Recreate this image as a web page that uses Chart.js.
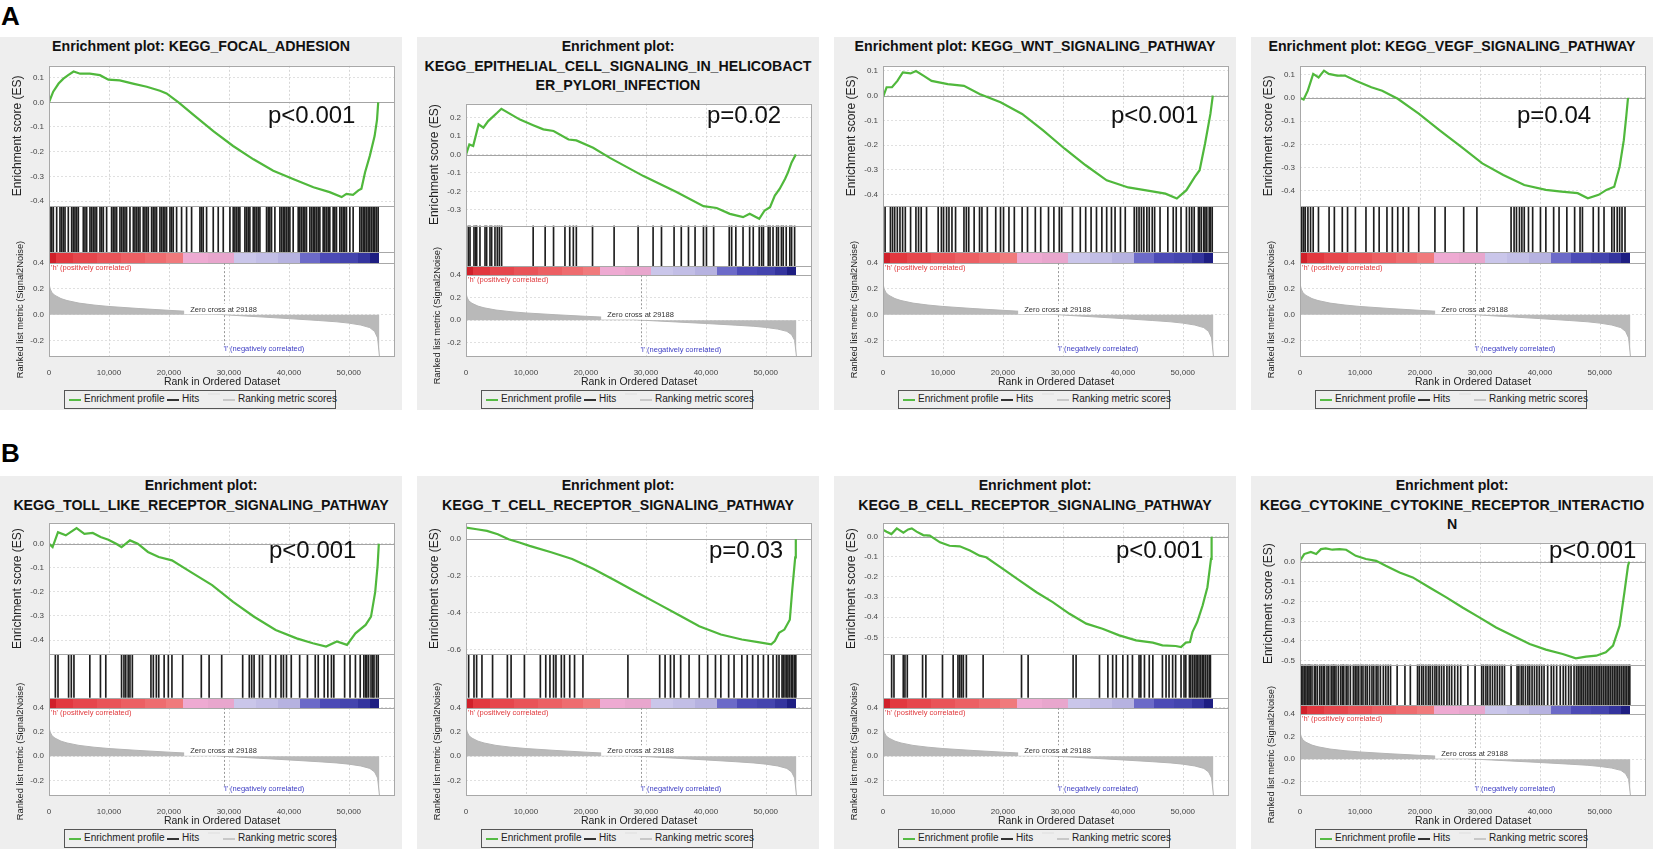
<!DOCTYPE html>
<html>
<head>
<meta charset="utf-8">
<title>GSEA enrichment plots</title>
<script src="https://cdn.jsdelivr.net/npm/chart.js@4.4.0/dist/chart.umd.min.js"></script>
<style>
  body { margin: 0; width: 1653px; height: 850px; overflow: hidden; background: #fff; position: relative;
         font-family: "Liberation Sans", Arial, sans-serif; }
  .tag { position: absolute; left: 1px; font: bold 26px "Liberation Sans", Arial, sans-serif; color: #000; line-height: 26px; }
  .panel { position: absolute; width: 402px; height: 373px; background: #eeeeee; }
  .ttl { position: absolute; left: 0; right: 0; top: 0; text-align: center; white-space: nowrap;
         font: bold 14.2px "Liberation Sans", Arial, sans-serif; line-height: 19.5px; color: #111; }
  .cw { position: absolute; left: 0; width: 402px; }
  .pv { position: absolute; font: 24px "Liberation Sans", Arial, sans-serif; line-height: 24px; color: #111; white-space: nowrap; }
  .leg { position: absolute; top: 353px; left: 64px; width: 270px; height: 17px; border: 1px solid #555;
         font: 10px "Liberation Sans", Arial, sans-serif; color: #222; }
  .leg .ln { position: absolute; top: 8px; width: 12px; height: 2px; }
  .leg .lt { position: absolute; top: 1px; line-height: 14px; white-space: nowrap; }
</style>
</head>
<body>
<div class="tag" style="top:3px">A</div>
<div class="tag" style="top:440px">B</div>
<script>
// ---- data (ranks in thousands) ----
const titles = [
  ['Enrichment plot: KEGG_FOCAL_ADHESION'],
  ['Enrichment plot:', 'KEGG_EPITHELIAL_CELL_SIGNALING_IN_HELICOBACT', 'ER_PYLORI_INFECTION'],
  ['Enrichment plot: KEGG_WNT_SIGNALING_PATHWAY'],
  ['Enrichment plot: KEGG_VEGF_SIGNALING_PATHWAY'],
  ['Enrichment plot:', 'KEGG_TOLL_LIKE_RECEPTOR_SIGNALING_PATHWAY'],
  ['Enrichment plot:', 'KEGG_T_CELL_RECEPTOR_SIGNALING_PATHWAY'],
  ['Enrichment plot:', 'KEGG_B_CELL_RECEPTOR_SIGNALING_PATHWAY'],
  ['Enrichment plot:', 'KEGG_CYTOKINE_CYTOKINE_RECEPTOR_INTERACTIO', 'N']
];
const pValues = ['p<0.001', 'p=0.02', 'p<0.001', 'p=0.04', 'p<0.001', 'p=0.03', 'p<0.001', 'p<0.001'];

const esRanges = [[-0.42, 0.148], [-0.386, 0.276], [-0.447, 0.121], [-0.465, 0.138],
                  [-0.459, 0.087], [-0.624, 0.089], [-0.584, 0.069], [-0.52, 0.096]];
const esTickSets = [
  [0.1, 0, -0.1, -0.2, -0.3, -0.4],
  [0.2, 0.1, 0, -0.1, -0.2, -0.3],
  [0.1, 0, -0.1, -0.2, -0.3, -0.4],
  [0.1, 0, -0.1, -0.2, -0.3, -0.4],
  [0, -0.1, -0.2, -0.3, -0.4],
  [0, -0.1, -0.2, -0.3, -0.4, -0.5, -0.6],
  [0, -0.1, -0.2, -0.3, -0.4, -0.5],
  [0, -0.1, -0.2, -0.3, -0.4, -0.5]
];
const xTicks = [0, 10000, 20000, 30000, 40000, 50000];
const rankTicks = [0.4, 0.2, 0, -0.2];
const xMax = 57700;
const rankRange = [-0.32, 0.4];
const zeroCross = 29188;

// running enrichment score: [rank (k), ES]
const es1 = [[0,0],[0.7,0.043],[1.6,0.076],[2.4,0.096],[3.2,0.11],[4.1,0.125],[5.2,0.116],[6.8,0.116],[8.5,0.11],[9.9,0.092],
  [11.8,0.089],[14,0.076],[16.3,0.063],[18.5,0.047],[19.6,0.036],[21.6,0],[24.1,-0.051],[27.4,-0.117],[30.7,-0.177],[34.1,-0.231],
  [37.4,-0.277],[40.7,-0.311],[44.1,-0.344],[46.8,-0.364],[48.8,-0.384],[49.6,-0.371],[50.7,-0.375],[51.6,-0.357],[52.1,-0.35],
  [52.7,-0.284],[53.5,-0.217],[54.3,-0.137],[54.7,-0.071],[54.9,0]];
const es2 = [[0,0],[0.56,0.055],[1.2,0.047],[2.1,0.164],[2.9,0.146],[3.7,0.182],[4.6,0.209],[5.2,0.227],[5.9,0.249],[9,0.19],
  [11.2,0.16],[12.9,0.137],[14.6,0.128],[17.1,0.082],[18.4,0.077],[21.2,0.037],[24,-0.018],[29.6,-0.117],[35.1,-0.203],[39.6,-0.28],
  [41.8,-0.29],[44,-0.322],[46.2,-0.34],[47.3,-0.322],[48.9,-0.349],[49.8,-0.304],[50.7,-0.286],[51.5,-0.223],[52.3,-0.187],
  [53.2,-0.133],[53.7,-0.097],[54.3,-0.043],[55,0]];
const es3 = [[0,-0.006],[0.6,0.034],[1.5,0.034],[2.4,0.06],[3.3,0.094],[4.6,0.09],[5.5,0.1],[6.8,0.08],[8.1,0.06],[10.8,0.047],
  [13.5,0.04],[16.1,0.007],[19.6,-0.027],[23.2,-0.074],[26.7,-0.141],[30.3,-0.215],[33.8,-0.282],[37.3,-0.343],[40.9,-0.372],
  [44.4,-0.386],[47.1,-0.397],[49,-0.417],[50.6,-0.383],[52,-0.329],[52.8,-0.302],[53.7,-0.195],[54.6,-0.074],[55,0]];
const es4 = [[0,0],[0.6,-0.007],[1.3,0.031],[2.2,0.103],[3.1,0.088],[4,0.117],[4.8,0.103],[6.2,0.096],[7.5,0.096],[9.3,0.074],
  [11.9,0.046],[13.7,0.031],[16.3,-0.004],[19.8,-0.068],[23.3,-0.14],[26.9,-0.211],[30.4,-0.282],[33.9,-0.332],[37.4,-0.375],
  [41,-0.396],[43.6,-0.403],[46.3,-0.41],[48,-0.432],[49.8,-0.417],[51.1,-0.396],[52.4,-0.382],[53.3,-0.296],[54,-0.182],
  [54.4,-0.082],[54.7,0]];
const es5 = [[0,0],[0.6,-0.014],[1.5,0.048],[2.8,0.035],[4.6,0.065],[5.9,0.041],[7.3,0.045],[8.6,0.028],[9.9,0.017],[11.2,0],
  [12.1,-0.014],[13.5,0.014],[14.8,0],[16.5,-0.034],[18.3,-0.055],[20.5,-0.069],[23.6,-0.117],[27.2,-0.172],[30.7,-0.241],
  [34.2,-0.303],[37.8,-0.358],[41.3,-0.393],[44,-0.413],[46.2,-0.427],[48,-0.406],[49.7,-0.42],[51.1,-0.372],[52.8,-0.337],
  [53.7,-0.303],[54.4,-0.2],[54.8,-0.09],[55,0]];
const es6 = [[0,0.063],[1.8,0.054],[3.5,0.045],[5.3,0.027],[7.1,0],[8.9,-0.018],[10.6,-0.036],[14.2,-0.071],[17.7,-0.107],
  [21.2,-0.16],[24.8,-0.223],[28.3,-0.285],[31.9,-0.348],[35.4,-0.41],[38.9,-0.472],[42.5,-0.517],[46,-0.544],[48.7,-0.558],
  [50.9,-0.57],[51.5,-0.552],[52.2,-0.508],[53.1,-0.49],[54,-0.437],[54.4,-0.276],[54.9,-0.098],[55,0]];
const es7 = [[0,0.035],[0.6,0.025],[1.4,0.013],[2.3,0.041],[3.4,0.02],[4.2,0.036],[4.8,0.041],[5.6,0.025],[6.7,0.008],[7.8,0.005],
  [9.5,-0.028],[11.1,-0.045],[12.8,-0.048],[14.5,-0.069],[16.1,-0.094],[17.2,-0.102],[20,-0.16],[22.8,-0.218],[25.6,-0.276],
  [28.3,-0.325],[31.1,-0.383],[33.9,-0.432],[36.6,-0.457],[39.4,-0.49],[42.2,-0.515],[45,-0.526],[46.6,-0.54],[48.8,-0.543],
  [49.7,-0.548],[50.5,-0.526],[51.2,-0.523],[51.6,-0.474],[52.4,-0.424],[53.3,-0.342],[54.1,-0.251],[54.7,-0.11],[54.8,0]];
const es8 = [[0,0.005],[0.7,0.039],[1.8,0.05],[2.7,0.039],[3.5,0.064],[4.3,0.068],[5.4,0.061],[6.6,0.064],[7.7,0.061],[9.3,0.03],
  [11,0.014],[12.7,0.005],[14.3,-0.02],[16.6,-0.054],[18.8,-0.079],[21.6,-0.13],[24.4,-0.18],[27.1,-0.231],[29.9,-0.281],
  [32.7,-0.332],[35.5,-0.374],[38.3,-0.416],[41,-0.444],[43.8,-0.466],[46,-0.488],[47.7,-0.48],[49.4,-0.475],[51,-0.458],
  [52.2,-0.424],[53.3,-0.323],[54.1,-0.155],[54.7,-0.02],[54.9,0]];

// gene set hit positions, rank (k)
const hits1 = [0.17,0.44,0.72,1.28,1.83,2.11,2.39,2.67,3.22,3.78,4.06,4.33,4.61,4.89,5.72,6.0,6.28,6.83,7.11,7.39,7.67,7.94,
  8.5,8.78,9.06,9.61,10.44,10.72,11.0,11.28,11.83,12.11,12.39,12.67,12.94,13.5,14.06,14.33,14.61,14.89,15.17,15.72,16.0,16.28,
  16.56,17.11,17.39,17.67,17.94,18.5,18.78,19.06,19.33,19.61,20.17,20.44,20.72,21.28,22.11,22.94,23.78,25.17,25.44,25.72,26.28,
  27.39,28.22,29.06,30.17,30.72,31.0,31.28,31.56,31.83,32.67,32.94,33.22,33.5,34.06,34.33,34.61,34.89,35.17,36.28,36.56,36.83,
  37.11,37.67,38.5,38.78,39.06,39.33,39.61,39.89,40.17,40.72,41.56,41.83,42.11,42.39,42.67,42.94,43.5,43.78,44.06,44.33,44.61,
  44.89,45.17,45.72,46.0,46.28,46.56,46.83,47.39,47.67,47.94,48.5,48.78,49.06,49.33,49.61,50.17,50.72,51.83,52.11,52.39,52.67,
  52.94,53.22,53.5,53.78,54.06,54.33,54.61,54.89];
const hits2 = [0.39,0.67,1.33,1.61,1.78,2.33,3.17,3.44,4.0,4.28,4.83,5.22,5.56,5.94,11.2,13.2,14.6,16.5,17.3,17.9,18.4,21.1,
  24.7,28.7,31.2,32.6,34.7,35.9,37.1,38.2,39.6,40.1,41.3,43.9,44.3,45.0,46.2,47.3,47.9,48.9,49.3,49.6,50.4,50.7,51.2,51.8,52.1,
  52.6,52.9,53.4,54.0,54.3,54.8];
const hits3 = [0.35,1.24,1.59,1.95,2.39,2.83,3.27,3.72,4.6,5.49,5.93,6.37,7.26,9.2,9.74,10.1,10.6,11.0,11.5,12.1,13.5,13.9,
  14.3,15.2,16.1,16.5,17.4,18.8,19.6,20.1,21.0,21.9,23.2,24.1,25.4,26.3,27.6,28.5,29.4,29.8,31.6,32.9,33.8,34.7,35.6,36.5,37.3,
  38.1,38.7,39.6,40.4,41.9,42.3,42.7,43.1,43.5,44.0,44.4,44.9,45.3,46.2,47.5,48.4,48.9,49.7,50.6,51.1,51.5,51.9,52.6,52.8,53.1,
  53.5,53.7,54.0,54.4,54.6,54.9];
const hits4 = [0.3,0.62,0.88,1.32,1.76,2.2,3.08,4.85,5.73,7.05,7.93,9.25,11.0,12.3,13.2,14.5,15.4,16.3,17.2,18.1,19.8,22.5,24.2,
  27.3,29.5,35.2,35.7,36.1,36.6,37.0,37.4,38.1,38.8,40.1,41.0,42.3,43.2,44.5,45.8,46.7,47.1,48.9,49.8,50.7,52.0,52.4,52.9,53.3,
  53.7,54.2];
const hits5 = [1.06,1.5,3.27,3.72,4.16,6.81,8.58,9.47,12.1,12.5,12.8,13.2,13.5,13.9,17.0,17.4,17.9,18.3,19.2,19.9,20.5,22.3,
  25.4,26.7,28.8,32.3,33.4,33.8,34.2,35.1,35.6,36.9,37.8,38.7,39.1,39.6,40.4,41.8,43.1,44.4,44.9,45.9,46.5,47.1,47.5,49.3,50.2,
  51.1,51.9,52.5,52.8,53.0,53.3,53.7,54.0,54.2,54.6,54.9];
const hits6 = [0.44,1.33,1.77,2.66,4.43,6.9,7.52,9.74,12.4,13.3,14.0,14.6,15.0,15.9,16.4,17.3,18.1,19.5,27.0,32.3,33.2,34.1,
  34.7,35.8,37.2,38.9,40.3,41.6,42.5,43.8,44.7,46.0,46.9,47.8,48.7,49.6,50.4,51.2,51.8,52.2,52.7,52.9,53.2,53.5,53.7,54.0,54.3,
  54.5,54.8,55.0];
const hits7 = [1.44,1.83,3.38,3.66,4.05,6.6,7.15,9.92,11.7,12.5,12.8,13.1,13.4,13.9,16.7,23.1,24.2,31.7,32.2,36.1,37.5,38.3,
  38.9,40.0,40.8,41.6,42.7,43.0,43.6,44.4,45.0,46.6,47.2,47.7,48.3,48.8,49.7,50.2,50.5,51.1,51.3,51.6,51.9,52.2,52.4,52.7,53.0,
  53.3,53.5,53.8,54.1,54.4,54.6];
const hits8 = [0.1,0.3,0.5,0.8,1.0,1.3,1.5,1.7,2.0,2.4,2.6,2.9,3.3,3.6,3.9,4.1,4.5,4.8,5.2,5.5,5.7,6.0,6.4,6.8,7.1,7.3,7.7,8.0,
  8.4,8.9,9.2,9.5,9.8,10.2,10.5,10.9,11.2,11.6,12.0,12.3,12.7,13.0,13.4,13.9,14.3,14.7,15.1,16.2,17.5,18.4,19.6,19.9,20.3,20.6,
  21.0,21.4,21.7,22.1,22.5,22.8,23.2,23.6,24.0,24.5,24.9,25.3,25.8,26.3,26.8,28.0,29.2,30.3,30.6,31.0,31.3,31.7,32.1,32.5,32.9,
  33.3,33.7,34.1,35.2,36.2,36.5,36.9,37.2,37.6,38.0,38.3,38.7,39.1,39.5,39.9,40.3,40.7,41.3,41.9,42.3,42.8,43.4,43.9,44.3,44.8,
  45.2,45.7,46.1,46.4,46.7,47.0,47.3,47.6,47.9,48.2,48.5,48.8,49.1,49.4,49.7,50.0,50.3,50.6,50.9,51.2,51.5,51.8,52.1,52.4,52.7,
  53.0,53.3,53.6,53.9,54.2,54.5,54.8,55.0];

// ranked list metric (Signal2Noise), shared by all panels: [rank (k), metric]
const rankMetric = [[0,0.24],[0.2,0.2],[0.5,0.17],[1,0.15],[2,0.125],[3,0.11],[5,0.09],[7.5,0.075],[10,0.064],[15,0.048],
  [20,0.034],[23.5,0.025],[26,0.015],[29.188,0],[32,-0.008],[35,-0.016],[40,-0.03],[45,-0.045],[48,-0.055],[50,-0.065],
  [52,-0.08],[53.5,-0.1],[54.3,-0.13],[54.8,-0.18],[55.1,-0.32]];

// correlation heat bar: segment edges (k) and colours
const heatEdges = [0, 1.2, 4, 8, 12, 16, 19.5, 22.3, 26.5, 30.8, 34.5, 38.2, 41.8, 45.2, 48.5, 51.6, 53.5, 55.1];
const heatColors = ['#d0202a','#e2383f','#e6464c','#e95358','#ec5f63','#ee6c6f','#f07a7c','#eeaad2','#e8a6cd',
  '#cac6ea','#c2bee6','#b6b2e0','#6c6ac8','#4c4ab6','#4444ae','#34349e','#1e1e82'];

const esCurves = [es1, es2, es3, es4, es5, es6, es7, es8];
const hitSets = [hits1, hits2, hits3, hits4, hits5, hits6, hits7, hits8];

// ---- layout ----
const colLeft = [0, 417, 834, 1251];
const rowTop = [37, 476];
const titleHeights = [25, 43, 63];
const pvLeft = [268, 290, 277, 266, 269, 292, 282, 298];
const pvTop = [66, 62];
const FONT = '"Liberation Sans", Arial, sans-serif';

function vText(ctx, text, x, y, font, color) {
  ctx.save();
  ctx.translate(x, y);
  ctx.rotate(-Math.PI / 2);
  ctx.font = font;
  ctx.fillStyle = color;
  ctx.textAlign = 'center';
  ctx.textBaseline = 'middle';
  ctx.fillText(text, 0, 0);
  ctx.restore();
}

const gseaDecor = {
  id: 'gseaDecor',
  beforeDraw(chart) {
    const {ctx, chartArea: a} = chart;
    ctx.save();
    ctx.fillStyle = '#fff';
    ctx.fillRect(a.left, a.top, a.right - a.left, a.bottom - a.top);
    ctx.restore();
  },
  beforeDatasetsDraw(chart) {
    const {ctx, chartArea: a} = chart;
    const {x, yES, yHeat, yRank} = chart.scales;
    ctx.save();
    ctx.lineWidth = 1;
    ctx.strokeStyle = '#d6d6d6';
    ctx.setLineDash([2, 2]);
    x.ticks.forEach(t => {
      if (t.value <= 0) return;
      const px = Math.round(x.getPixelForValue(t.value)) + 0.5;
      [yES, yRank].forEach(s => {
        ctx.beginPath(); ctx.moveTo(px, s.top); ctx.lineTo(px, s.bottom); ctx.stroke();
      });
    });
    ctx.setLineDash([]);
    const y0 = Math.round(yES.getPixelForValue(0)) + 0.5;
    ctx.strokeStyle = '#a4a4a4';
    ctx.beginPath(); ctx.moveTo(a.left, y0); ctx.lineTo(a.right, y0); ctx.stroke();

    // heat bar cells, snapped to whole pixels so neighbours meet without seams
    const hTop = Math.round(yHeat.getPixelForValue(1));
    const hBot = Math.round(yHeat.getPixelForValue(0));
    heatColors.forEach((c, j) => {
      const x0 = Math.round(x.getPixelForValue(heatEdges[j] * 1000));
      const x1 = Math.round(x.getPixelForValue(heatEdges[j + 1] * 1000));
      ctx.fillStyle = c;
      ctx.fillRect(x0, hTop, x1 - x0, hBot - hTop);
    });
    ctx.restore();
  },
  afterDatasetsDraw(chart) {
    const {ctx, chartArea: a} = chart;
    const {x, yES, yHits, yHeat, yRank} = chart.scales;
    ctx.save();
    ctx.lineWidth = 1;
    ctx.strokeStyle = '#a8a8a8';
    [yES, yHits, yHeat, yRank].forEach(s => {
      ctx.strokeRect(a.left + 0.5, Math.round(s.top) + 0.5, a.right - a.left - 1, Math.round(s.bottom - s.top));
    });

    // zero cross marker and labels
    const zx = Math.round(x.getPixelForValue(zeroCross)) + 0.5;
    const z0 = yRank.getPixelForValue(0);
    ctx.strokeStyle = '#999';
    ctx.setLineDash([2, 2]);
    ctx.beginPath(); ctx.moveTo(zx, yRank.top); ctx.lineTo(zx, yRank.getPixelForValue(-0.245)); ctx.stroke();
    ctx.setLineDash([]);

    ctx.font = '7.5px ' + FONT;
    ctx.textBaseline = 'middle';
    const label = 'Zero cross at ' + zeroCross;
    const w = ctx.measureText(label).width;
    ctx.fillStyle = '#fff';
    ctx.fillRect(zx - w / 2 - 7, z0 - 11, w + 8, 10.5);
    ctx.fillStyle = '#333';
    ctx.textAlign = 'center';
    ctx.fillText(label, zx - 1, z0 - 5);

    ctx.textAlign = 'left';
    ctx.fillStyle = '#e0383c';
    ctx.fillText("'h' (positively correlated)", a.left + 2, yRank.top + 5);
    ctx.fillStyle = '#3d3dc4';
    ctx.fillText("'l' (negatively correlated)", zx - 1, yRank.getPixelForValue(-0.268));
    ctx.restore();

    vText(ctx, 'Enrichment score (ES)', 18, (yES.top + yES.bottom) / 2, '12px ' + FONT, '#222');
    vText(ctx, 'Ranked list metric (Signal2Noise)', 20, (yRank.top + yRank.bottom) / 2, '9.3px ' + FONT, '#222');
  }
};

function fixedTicks(list) {
  return axis => { axis.ticks = list.map(v => ({value: v})); };
}
const yWidth = s => { s.width = 43; };

function buildChart(canvas, i) {
  const datasets = [];
  datasets.push({
    type: 'line', label: 'Enrichment profile', yAxisID: 'yES',
    data: esCurves[i].map(([k, v]) => ({x: k * 1000, y: v})),
    borderColor: '#50b83c', borderWidth: 2.2, pointRadius: 0, tension: 0, fill: false
  });
  datasets.push({
    type: 'bar', label: 'Hits', yAxisID: 'yHits',
    data: hitSets[i].map(k => ({x: k * 1000, y: 1})),
    backgroundColor: '#1e1e1e', barThickness: 1, borderWidth: 0
  });
  datasets.push({
    type: 'line', label: 'Ranking metric scores', yAxisID: 'yRank',
    data: rankMetric.map(([k, v]) => ({x: k * 1000, y: v})),
    borderColor: '#b4b4b4', backgroundColor: '#b9b9b9', borderWidth: 1, pointRadius: 0, tension: 0, fill: 'origin'
  });

  const tickFont = {family: FONT, size: 8};
  return new Chart(canvas, {
    type: 'line',
    data: {datasets},
    plugins: [gseaDecor],
    options: {
      animation: false,
      responsive: true,
      maintainAspectRatio: false,
      layout: {padding: {top: 6, right: 7, left: 6, bottom: 0}},
      plugins: {legend: {display: false}, tooltip: {enabled: false}},
      scales: {
        x: {
          type: 'linear', min: 0, max: xMax, offset: false,
          afterBuildTicks: fixedTicks(xTicks),
          afterFit: s => { s.height = 32; },
          grid: {display: false}, border: {display: false},
          ticks: {font: tickFont, color: '#444', padding: 4,
                  callback: v => v.toLocaleString('en-US')},
          title: {display: true, text: 'Rank in Ordered Dataset', color: '#222',
                  font: {family: FONT, size: 10.5}, padding: {top: 1, bottom: 0}}
        },
        yRank: {
          type: 'linear', position: 'left', stack: 'gsea', stackWeight: 32,
          min: rankRange[0], max: rankRange[1],
          afterBuildTicks: fixedTicks(rankTicks), afterFit: yWidth,
          grid: {color: '#e0e0e0', drawTicks: false}, border: {display: false, dash: [2, 2]},
          ticks: {font: tickFont, color: '#444', padding: 5, callback: v => v.toFixed(1)}
        },
        yHeat: {
          type: 'linear', position: 'left', stack: 'gsea', stackWeight: 3.7, min: 0, max: 1,
          afterFit: yWidth, grid: {display: false}, border: {display: false}, ticks: {display: false}
        },
        yHits: {
          type: 'linear', position: 'left', stack: 'gsea', stackWeight: 16, min: 0, max: 1,
          afterFit: yWidth, grid: {display: false}, border: {display: false}, ticks: {display: false}
        },
        yES: {
          type: 'linear', position: 'left', stack: 'gsea', stackWeight: 48.3,
          min: esRanges[i][0], max: esRanges[i][1],
          afterBuildTicks: fixedTicks(esTickSets[i]), afterFit: yWidth,
          grid: {color: '#e0e0e0', drawTicks: false}, border: {display: false, dash: [2, 2]},
          ticks: {font: tickFont, color: '#444', padding: 5, callback: v => v.toFixed(1)}
        }
      }
    }
  });
}

function addLegend(panel) {
  const leg = document.createElement('div');
  leg.className = 'leg';
  const parts = [
    ['ln', 4, '#55bb44'], ['lt', 19, 'Enrichment profile'],
    ['ln', 102, '#333'], ['lt', 117, 'Hits'],
    ['ln', 143, '#e6e6e6', 2],
    ['ln', 158, '#c8c8c8'], ['lt', 173, 'Ranking metric scores']
  ];
  parts.forEach(([cls, left, val, top]) => {
    const s = document.createElement('span');
    s.className = cls;
    s.style.left = left + 'px';
    if (cls === 'ln') { s.style.background = val; if (top !== undefined) s.style.top = top + 'px'; }
    else s.textContent = val;
    leg.appendChild(s);
  });
  panel.appendChild(leg);
}

titles.forEach((lines, i) => {
  const col = i % 4, row = Math.floor(i / 4);
  const panel = document.createElement('div');
  panel.className = 'panel';
  panel.style.left = colLeft[col] + 'px';
  panel.style.top = rowTop[row] + 'px';

  const t = document.createElement('div');
  t.className = 'ttl';
  lines.forEach((ln, j) => {
    if (j) t.appendChild(document.createElement('br'));
    t.appendChild(document.createTextNode(ln));
  });
  panel.appendChild(t);

  const th = titleHeights[lines.length - 1];
  const wrap = document.createElement('div');
  wrap.className = 'cw';
  wrap.style.top = (th - 6) + 'px';
  wrap.style.height = (351 - th + 6) + 'px';
  const cv = document.createElement('canvas');
  wrap.appendChild(cv);
  panel.appendChild(wrap);

  const pv = document.createElement('div');
  pv.className = 'pv';
  pv.style.left = pvLeft[i] + 'px';
  pv.style.top = pvTop[row] + 'px';
  pv.textContent = pValues[i];
  panel.appendChild(pv);

  addLegend(panel);
  document.body.appendChild(panel);
  buildChart(cv, i);
});
</script>
</body>
</html>
